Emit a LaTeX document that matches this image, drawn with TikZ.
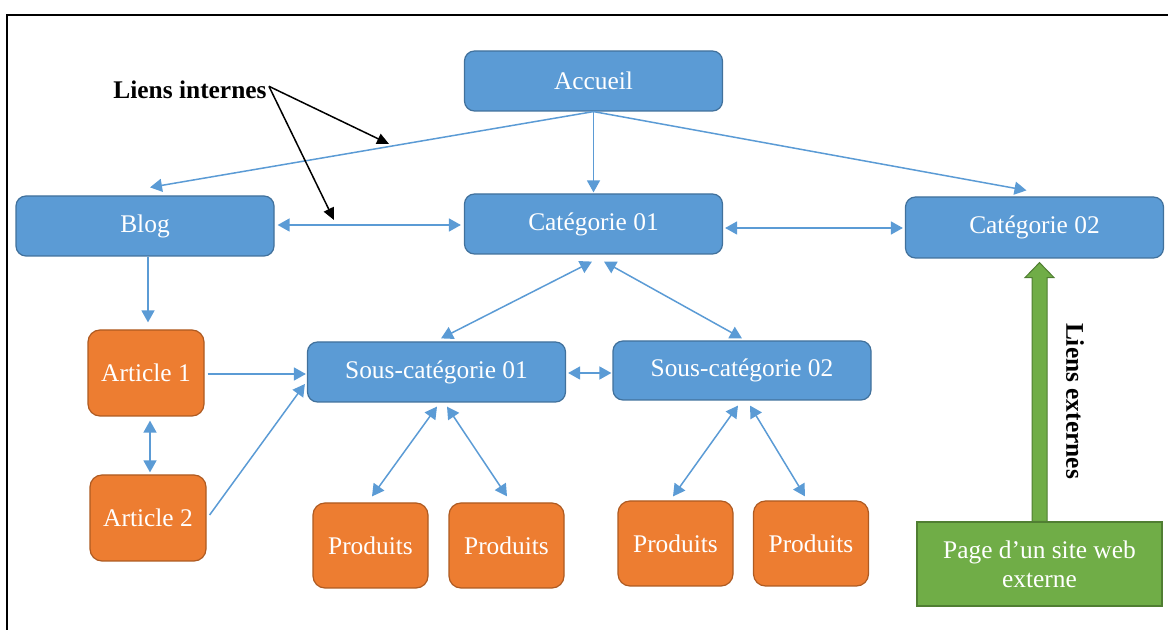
\documentclass[tikz,border=0pt]{standalone}
\usepackage{fontspec}
\setmainfont{Liberation Serif}
\usetikzlibrary{arrows.meta,calc}
\definecolor{bfill}{HTML}{5B9BD5}
\definecolor{bline}{HTML}{41719C}
\definecolor{ofill}{HTML}{ED7D31}
\definecolor{oline}{HTML}{AE5A21}
\definecolor{gfill}{HTML}{70AD47}
\definecolor{gline}{HTML}{507E32}
\begin{document}
\begin{tikzpicture}[x=0.5pt,y=-0.5pt,
  every node/.style={font=\fontsize{12.7pt}{14.5pt}\selectfont},
  bluebox/.style={draw=bline,fill=bfill,text=white,rounded corners=5pt,line width=0.6pt,
    minimum width=129pt,minimum height=30pt,inner sep=0pt},
  orangebox/.style={draw=oline,fill=ofill,text=white,rounded corners=6pt,line width=0.6pt,
    minimum width=57.5pt,minimum height=42.5pt,inner sep=0pt},
  greenbox/.style={draw=gline,fill=gfill,text=white,line width=0.6pt,
    minimum width=122.5pt,minimum height=42pt,inner sep=0pt,align=center},
  link/.style={draw=bfill,line width=0.75pt,-{Triangle[length=6pt,width=6.5pt]}},
  blink/.style={draw=bfill,line width=0.75pt,{Triangle[length=6pt,width=6.5pt]}-{Triangle[length=6pt,width=6.5pt]}},
  callout/.style={draw=black,line width=0.75pt,-{Triangle[length=6pt,width=5.5pt]}},
  labeltext/.style={font=\fontsize{12.7pt}{14.5pt}\selectfont\bfseries,inner sep=0pt}
]
\useasboundingbox (0,0) rectangle (1168,630);
% frame
\draw[line width=1pt] (7,632) -- (7,15) -- (1170,15);

% nodes
\node[bluebox] (acc) at (593.5,81) {Accueil};
\node[bluebox] (cat1) at (593.5,224) {Catégorie 01};
\node[bluebox,minimum height=30.5pt] (cat2) at (1034.5,227.5) {Catégorie 02};
\node[bluebox] (blog) at (145,226) {Blog};
\node[orangebox,minimum width=58pt,minimum height=43pt] (art1) at (146,373) {Article 1};
\node[orangebox,minimum width=58pt,minimum height=43pt] (art2) at (148,518) {Article 2};
\node[bluebox] (sc1) at (436.5,372) {Sous-catégorie 01};
\node[bluebox,minimum height=29.5pt] (sc2) at (742,370.5) {Sous-catégorie 02};
\node[orangebox] (p1) at (370.5,545.5) {Produits};
\node[orangebox] (p2) at (506.5,545.5) {Produits};
\node[orangebox] (p3) at (675.5,543.5) {Produits};
\node[orangebox] (p4) at (811,543.5) {Produits};
\node[greenbox] (ext) at (1039.5,564) {Page d’un site web\\externe};

% labels
\node[labeltext,anchor=base] (li) at (190,99) {Liens internes};
\node[labeltext,rotate=-90] (le) at (1075,401) {Liens externes};

% blue connectors
\draw[link] (acc.south) -- ($(blog.north)+(5,-8)$);
\draw[link] (acc.south) -- ($(cat1.north)+(0,-1)$);
\draw[link] (acc.south) -- ($(cat2.north)+(-8,-6)$);
\draw[blink] ($(blog.east)+(3,-1)$) -- ($(cat1.west)+(-3,1)$);
\draw[blink] ($(cat1.east)+(2,4)$) -- ($(cat2.west)+(-2,0.5)$);
\draw[blink] ($(cat1.south)+(-1.5,7)$) -- ($(sc1.north)+(4.5,-3)$);
\draw[blink] ($(cat1.south)+(10.5,7)$) -- ($(sc2.north)+(0,-2)$);
\draw[blink] ($(sc1.east)+(2,1)$) -- ($(sc2.west)+(-1,2.5)$);
\draw[link] ($(blog.south)+(3,0)$) -- ($(art1.north)+(2,-7)$);
\draw[blink] ($(art1.south)+(4,4)$) -- ($(art2.north)+(2,-2)$);
\draw[link] ($(art1.east)+(3,1)$) -- ($(sc1.west)+(-1,2)$);
\draw[link] ($(art2.east)+(3,-3)$) -- ($(sc1.west)+(-2,12)$);
\draw[blink] ($(sc1.south)+(0.5,4)$) -- ($(p1.north)+(1.5,-6)$);
\draw[blink] ($(sc1.south)+(10.5,4)$) -- ($(p2.north)+(0.5,-6)$);
\draw[blink] ($(sc2.south)+(-4,5)$) -- ($(p3.north)+(-2.5,-4)$);
\draw[blink] ($(sc2.south)+(8,5)$) -- ($(p4.north)+(-6,-4)$);

% callouts
\coordinate (t1) at (389,144);
\coordinate (t2) at (334,220);
\draw[callout] ($(li.east)+(2,-4)$) -- (t1);
\draw[callout] ($(li.east)+(2,-4)$) -- (t2);

% green external link arrow
\coordinate (gtip) at ($(ext.north |- cat2.south)+(0,4)$);
\filldraw[fill=gfill,draw=gline,line width=0.5pt]
  ($(ext.north)+(-7.5,0)$) -- ($(gtip)+(-7.5,15)$) -- ($(gtip)+(-14.5,15)$) --
  (gtip) -- ($(gtip)+(14.5,15)$) -- ($(gtip)+(7.5,15)$) -- ($(ext.north)+(7.5,0)$) -- cycle;
\end{tikzpicture}
\end{document}
